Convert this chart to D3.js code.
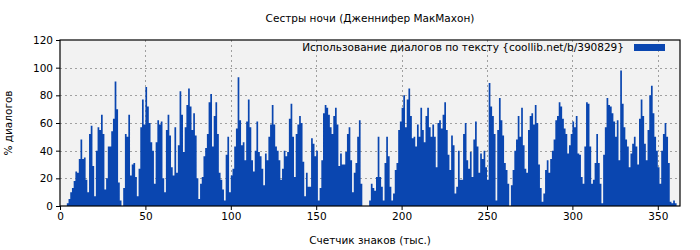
<!DOCTYPE html>
<html>
<head>
<meta charset="utf-8">
<script src="https://cdn.jsdelivr.net/npm/d3@7"></script>
<style>
  body { margin: 0; background: #ffffff; }
  svg text { font-family: "DejaVu Sans", sans-serif; fill: #000; }
</style>
</head>
<body>
<div id="chart"></div>
<script>
// Share of dialogue (%) per thousand characters of text
var dialogPct = [
  0,0,0,0,2,5,10,13,18,25,24,34,48,34,35,19,10,52,58,29,7,40,57,55,66,52,12,20,43,43,
  54,63,90,70,17,4,0,13,52,50,66,22,30,31,21,7,27,57,77,59,86,72,60,46,40,16,46,62,59,61,
  20,10,55,66,51,28,22,57,24,44,83,66,39,57,73,85,72,55,67,51,20,5,16,21,36,42,52,75,81,43,65,
  75,52,24,19,12,4,37,50,10,22,27,43,56,93,62,44,46,33,61,77,57,33,25,40,61,39,36,27,15,38,
  33,50,59,73,59,43,40,33,19,27,40,36,39,63,74,50,21,52,59,65,60,32,7,24,14,14,49,45,36,40,
  4,13,33,67,73,71,66,57,52,65,71,59,29,38,30,30,39,52,57,33,10,24,31,50,62,16,0,0,0,0,4,
  16,13,11,21,50,21,14,4,31,50,36,14,4,9,26,31,55,61,71,80,57,77,85,65,49,50,43,59,50,
  71,55,46,65,71,57,50,59,50,28,60,62,56,66,75,55,37,26,51,44,9,14,40,19,19,52,60,33,27,39,21,
  48,61,43,24,38,34,40,28,19,89,72,65,52,4,55,78,62,51,31,26,16,0,15,26,40,48,65,50,71,44,27,
  24,55,65,67,59,73,60,30,13,3,9,26,33,24,34,40,48,62,65,75,72,63,56,52,38,44,52,61,57,
  65,38,37,21,16,43,75,74,43,16,19,31,52,31,16,2,37,57,78,73,72,67,61,50,62,33,98,74,57,48,43,
  28,38,45,50,43,30,63,77,65,45,33,55,80,87,67,50,40,28,16,40,52,60,50,31,3,2,4,2
];
var xTicks = [0, 50, 100, 150, 200, 250, 300, 350];
var yTicks = [0, 20, 40, 60, 80, 100, 120];
var xMax = 363;
var yMax = 120;

var titleText = "Сестры ночи (Дженнифер МакМахон)";
var legendText = "Использование диалогов по тексту {coollib.net/b/390829}";
var xLabel = "Счетчик знаков (тыс.)";
var yLabel = "% диалогов";

var W = 700, H = 250;
var margin = {top: 40, right: 20, bottom: 44, left: 60},
    width = W - margin.left - margin.right,
    height = H - margin.top - margin.bottom;

var svg = d3.select("#chart").append("svg")
    .attr("width", W)
    .attr("height", H);

var g = svg.append("g")
    .attr("transform", "translate(" + margin.left + "," + margin.top + ")");

var x = d3.scaleLinear().domain([0, xMax]).range([0, width]);
var y = d3.scaleLinear().domain([0, yMax]).range([height, 0]);

// plot background
g.append("rect")
    .attr("width", width)
    .attr("height", height)
    .attr("fill", "#f2f2f2");

// grid lines
g.selectAll(".hgrid")
    .data(yTicks.filter(function(d) { return d > 0 && d < yMax; }))
  .enter().append("line")
    .attr("x1", 0).attr("x2", width)
    .attr("y1", function(d) { return Math.round(y(d)) + 0.5; })
    .attr("y2", function(d) { return Math.round(y(d)) + 0.5; })
    .attr("stroke", "#a0a0a0")
    .attr("stroke-dasharray", "2,3");

g.selectAll(".vgrid")
    .data(xTicks.filter(function(d) { return d > 0; }))
  .enter().append("line")
    .attr("y1", 0).attr("y2", height)
    .attr("x1", function(d) { return Math.round(x(d)) + 0.5; })
    .attr("x2", function(d) { return Math.round(x(d)) + 0.5; })
    .attr("stroke", "#a0a0a0")
    .attr("stroke-dasharray", "2,3");

// bars, drawn as one stepped area so neighbouring bars touch
var steps = dialogPct.concat([dialogPct[dialogPct.length - 1]]);
var barArea = d3.area()
    .curve(d3.curveStepAfter)
    .x(function(d, i) { return x(i); })
    .y0(height)
    .y1(function(d) { return y(d); });

g.append("path")
    .attr("d", barArea(steps))
    .attr("fill", "#0a46b0");

// axes
var xAxis = d3.axisBottom(x).tickValues(xTicks).tickSize(4).tickSizeOuter(0);
var yAxis = d3.axisLeft(y).tickValues(yTicks).tickSize(4).tickSizeOuter(0);

g.append("g")
    .attr("class", "x axis")
    .attr("transform", "translate(0," + height + ")")
    .call(xAxis);

g.append("g")
    .attr("class", "y axis")
    .call(yAxis);

g.selectAll(".axis text")
    .style("font-family", "DejaVu Sans, sans-serif")
    .style("font-size", "10.5px");
g.selectAll(".axis .domain").remove();

// frame
g.append("rect")
    .attr("width", width)
    .attr("height", height)
    .attr("fill", "none")
    .attr("stroke", "#000")
    .attr("stroke-width", 1.2);

// legend
g.append("rect")
    .attr("x", width - 46)
    .attr("y", 4)
    .attr("width", 31)
    .attr("height", 7)
    .attr("fill", "#0a46b0");
g.append("text")
    .attr("x", width - 56)
    .attr("y", 11)
    .attr("text-anchor", "end")
    .style("font-size", "10.5px")
    .text(legendText);

// title and labels
svg.append("text")
    .attr("x", margin.left + width / 2)
    .attr("y", 22)
    .attr("text-anchor", "middle")
    .style("font-size", "10.5px")
    .text(titleText);

svg.append("text")
    .attr("x", margin.left + width / 2)
    .attr("y", 244)
    .attr("text-anchor", "middle")
    .style("font-size", "10.5px")
    .text(xLabel);

svg.append("text")
    .attr("transform", "translate(12," + (margin.top + height / 2) + ") rotate(-90)")
    .attr("text-anchor", "middle")
    .style("font-size", "10.5px")
    .text(yLabel);
</script>
</body>
</html>
